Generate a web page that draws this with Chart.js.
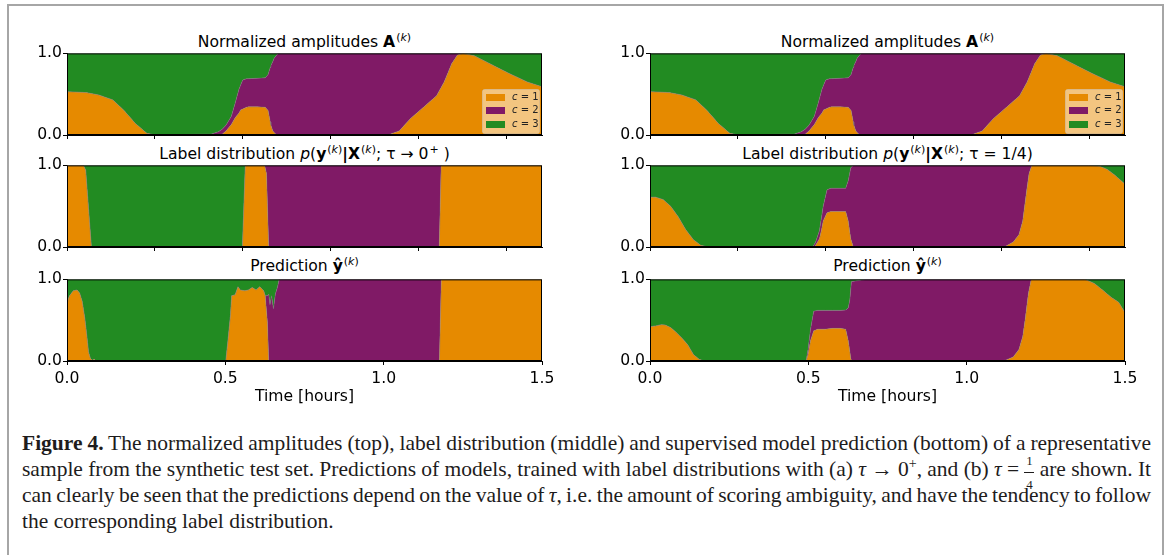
<!DOCTYPE html>
<html>
<head>
<meta charset="utf-8">
<script src="https://cdn.jsdelivr.net/npm/chart.js@4.4.1/dist/chart.umd.min.js"></script>
<style>
  html, body { margin: 0; padding: 0; background: #fff; }
  body { width: 1170px; height: 555px; position: relative; overflow: hidden; font-family: 'DejaVu Sans', sans-serif; }
  .page-frame { position: absolute; left: 7px; top: 4px; width: 1153px; height: 620px; border: 2px solid #a6a6a6; border-bottom: none; }
  canvas { position: absolute; }
  .ttl { position: absolute; width: 475px; text-align: center; font-size: 15.6px; line-height: 18px; color: #000; white-space: nowrap; }
  .ttl sup { font-size: 11px; line-height: 0; vertical-align: 6px; margin-left: 1px; }
  .ttl b { font-weight: bold; }
  #caption { position: absolute; left: 22px; top: 430px; width: 1129px; font-family: 'Liberation Serif', serif; font-size: 21.5px; line-height: 26px; color: #1e1c1c; }
  #caption .ln { white-space: nowrap; height: 26px; }
  #caption sup { font-size: 14px; line-height: 0; vertical-align: 8px; }
  .frac { display: inline-block; position: relative; width: 10px; height: 10px; vertical-align: baseline; }
  .frac .n, .frac .d { position: absolute; left: 0; right: 0; text-align: center; font-size: 13px; line-height: 14px; }
  .frac .n { top: -12px; }
  .frac .d { top: 12px; }
  .frac .bar { position: absolute; left: 0; right: 0; top: 6px; border-top: 1px solid #1e1c1c; }
</style>
</head>
<body>
<div class="page-frame"></div>

<div class="ttl" style="left:67px;top:33px">Normalized amplitudes <b>A</b><sup>(<i>k</i>)</sup></div>
<div class="ttl" style="left:650px;top:33px">Normalized amplitudes <b>A</b><sup>(<i>k</i>)</sup></div>
<div class="ttl" style="left:67px;top:145px">Label distribution <i>p</i>(<b>y</b><sup>(<i>k</i>)</sup><b>|X</b><sup>(<i>k</i>)</sup>; τ → 0<sup>+</sup> )</div>
<div class="ttl" style="left:650px;top:145px">Label distribution <i>p</i>(<b>y</b><sup>(<i>k</i>)</sup><b>|X</b><sup>(<i>k</i>)</sup>; τ = 1/4)</div>
<div class="ttl" style="left:67px;top:257px">Prediction <b>ŷ</b><sup>(<i>k</i>)</sup></div>
<div class="ttl" style="left:650px;top:257px">Prediction <b>ŷ</b><sup>(<i>k</i>)</sup></div>

<canvas id="ampA" width="577" height="104" style="left:10px;top:43px"></canvas>
<canvas id="ampB" width="577" height="104" style="left:593px;top:43px"></canvas>
<canvas id="lblA" width="577" height="104" style="left:10px;top:155px"></canvas>
<canvas id="lblB" width="577" height="104" style="left:593px;top:155px"></canvas>
<canvas id="predA" width="577" height="140" style="left:10px;top:269px"></canvas>
<canvas id="predB" width="577" height="140" style="left:593px;top:269px"></canvas>

<div id="caption">
  <div class="ln just"><span><b>Figure 4.</b> The normalized amplitudes (top), label distribution (middle) and supervised model prediction (bottom) of a representative</span></div>
  <div class="ln just"><span>sample from the synthetic test set. Predictions of models, trained with label distributions with (a) <i>τ</i> → 0<sup>+</sup>, and (b) <i>τ</i> = <span class="frac"><span class="n">1</span><span class="bar"></span><span class="d">4</span></span> are shown. It</span></div>
  <div class="ln just"><span>can clearly be seen that the predictions depend on the value of <i>τ</i>, i.e. the amount of scoring ambiguity, and have the tendency to follow</span></div>
  <div class="ln"><span>the corresponding label distribution.</span></div>
</div>

<script>
// ---- classes -------------------------------------------------------------
const classNames = ['c = 1', 'c = 2', 'c = 3'];
const classColors = ['#e68a00', '#801a66', '#228b22'];

// ---- axis ticks ----------------------------------------------------------
const hourTicks = [0, 0.5, 1.0, 1.5];                   // labelled time axis [hours]
const secondTicks = [0, 1000, 2000, 3000, 4000, 5000];  // unlabelled axes run in seconds
const valueTicks = [0, 1];

// ---- normalized amplitudes A(k) (same sample in both columns) -------------
// c = 3 always takes the remainder of each normalized column.
const ampTime = [0, 0.06, 0.1, 0.145, 0.18, 0.216, 0.252, 0.28, 0.35, 0.42, 0.454, 0.478, 0.49, 0.502, 0.513, 0.519, 0.531, 0.543, 0.549, 0.555, 0.567, 0.573, 0.6, 0.626, 0.635, 0.642, 0.644, 0.65, 0.654, 0.662, 0.668, 0.69, 0.8, 0.95, 1.013, 1.049, 1.084, 1.132, 1.167, 1.191, 1.215, 1.233, 1.25, 1.286, 1.334, 1.393, 1.453, 1.5];
const ampC1 = [0.53, 0.52, 0.49, 0.43, 0.30, 0.14, 0.02, 0, 0, 0, 0.005, 0.005, 0.01, 0.05, 0.1, 0.13, 0.21, 0.27, 0.31, 0.32, 0.34, 0.345, 0.345, 0.34, 0.30, 0.16, 0.12, 0.05, 0.03, 0, 0, 0, 0, 0, 0, 0.05, 0.2, 0.36, 0.48, 0.65, 0.875, 0.98, 1.0, 0.97, 0.875, 0.76, 0.65, 0.59];
const ampC2 = [0, 0, 0, 0, 0, 0, 0, 0, 0.005, 0.01, 0.005, 0.035, 0.06, 0.07, 0.09, 0.10, 0.18, 0.29, 0.31, 0.355, 0.35, 0.345, 0.35, 0.36, 0.44, 0.67, 0.73, 0.85, 0.91, 0.98, 1, 1, 1, 1, 1, 0.95, 0.8, 0.64, 0.52, 0.35, 0.125, 0.02, 0, 0, 0, 0, 0, 0];

// ---- label distribution, tau -> 0+ -----------------------------------------
const lblSharpTime = [0, 0.052, 0.059, 0.077, 0.554, 0.563, 0.624, 0.630, 0.637, 1.1755, 1.1815, 1.5];
const lblSharpC1 = [1, 1, 0.94, 0, 0, 1, 1, 0.9, 0, 0, 1, 1];
const lblSharpC2 = [0, 0, 0, 0, 0, 0, 0, 0.1, 1, 1, 0, 0];

// ---- label distribution, tau = 1/4 -----------------------------------------
const lblSoftTime = [0, 0.018, 0.042, 0.065, 0.089, 0.113, 0.137, 0.16, 0.184, 0.511, 0.517, 0.523, 0.535, 0.541, 0.547, 0.559, 0.571, 0.618, 0.626, 0.634, 0.642, 1.099, 1.123, 1.147, 1.165, 1.177, 1.189, 1.197, 1.206, 1.385, 1.42, 1.444, 1.468, 1.5];
const lblSoftC1 = [0.61, 0.61, 0.58, 0.50, 0.37, 0.21, 0.09, 0.02, 0, 0, 0, 0.02, 0.1, 0.2, 0.32, 0.42, 0.435, 0.435, 0.32, 0.1, 0, 0, 0.01, 0.06, 0.15, 0.32, 0.68, 0.9, 1.0, 1.0, 0.99, 0.95, 0.88, 0.77];
const lblSoftC2 = [0, 0, 0, 0, 0, 0, 0, 0, 0, 0, 0.02, 0.04, 0.1, 0.15, 0.18, 0.28, 0.285, 0.285, 0.49, 0.87, 1.0, 1, 0.99, 0.94, 0.85, 0.68, 0.32, 0.1, 0, 0, 0, 0, 0, 0];

// ---- model prediction, trained with tau -> 0+ --------------------------------
const predSharpTime = [0, 0.004, 0.008, 0.02, 0.032, 0.04, 0.048, 0.056, 0.062, 0.068, 0.074, 0.08, 0.086, 0.092, 0.499, 0.502, 0.508, 0.516, 0.52, 0.531, 0.54, 0.547, 0.561, 0.573, 0.585, 0.597, 0.609, 0.621, 0.626, 0.633, 0.637, 0.641, 0.646, 0.652, 0.658, 0.665, 0.67, 1.176, 1.182, 1.5];
const predSharpC1 = [0.69, 0.76, 0.8, 0.86, 0.87, 0.83, 0.73, 0.53, 0.33, 0.11, 0.03, 0.01, 0.02, 0, 0, 0.02, 0.24, 0.55, 0.8, 0.81, 0.91, 0.87, 0.86, 0.87, 0.9, 0.87, 0.91, 0.86, 0.8, 0.47, 0, 0, 0, 0, 0, 0, 0, 0, 1, 1];
const predSharpC2 = [0, 0, 0, 0, 0, 0, 0, 0, 0, 0, 0, 0, 0, 0, 0, 0, 0, 0, 0, 0, 0, 0, 0, 0, 0, 0, 0, 0, 0, 0.33, 0.82, 0.69, 0.8, 0.64, 0.82, 0.91, 1.0, 1, 0, 0];

// ---- model prediction, trained with tau = 1/4 --------------------------------
const predSoftTime = [0, 0.018, 0.036, 0.048, 0.065, 0.083, 0.101, 0.119, 0.137, 0.155, 0.172, 0.493, 0.499, 0.507, 0.517, 0.529, 0.553, 0.576, 0.6, 0.618, 0.626, 0.631, 0.634, 0.636, 0.638, 0.648, 0.683, 1.099, 1.123, 1.147, 1.165, 1.177, 1.185, 1.195, 1.204, 1.349, 1.373, 1.403, 1.432, 1.456, 1.48, 1.5];
const predSoftC1 = [0.42, 0.43, 0.445, 0.44, 0.41, 0.35, 0.28, 0.2, 0.08, 0.02, 0, 0, 0.08, 0.25, 0.37, 0.39, 0.39, 0.40, 0.40, 0.39, 0.25, 0.12, 0.03, 0.01, 0, 0, 0, 0, 0.01, 0.05, 0.14, 0.3, 0.52, 0.83, 1.0, 1.0, 1.0, 0.95, 0.86, 0.78, 0.72, 0.59];
const predSoftC2 = [0, 0, 0, 0, 0, 0, 0, 0, 0, 0, 0, 0, 0.06, 0.14, 0.24, 0.23, 0.23, 0.22, 0.22, 0.235, 0.40, 0.63, 0.85, 0.96, 0.975, 0.98, 1.0, 1, 0.99, 0.95, 0.86, 0.7, 0.48, 0.17, 0, 0, 0, 0, 0, 0, 0, 0];

// ---- drawing -------------------------------------------------------------
const FONT = "'DejaVu Sans', sans-serif";
const FONT_SIZE = 15.6;
const seam = 'rgba(125,125,125,0.45)';

// Black box around the plotting area, drawn over the filled areas.
const axesFrame = {
  id: 'axesFrame',
  afterDatasetsDraw(chart) {
    const { ctx, chartArea: a } = chart;
    ctx.save();
    ctx.strokeStyle = '#000';
    ctx.lineWidth = 1;
    ctx.strokeRect(a.left + 0.5, a.top + 0.5, a.width - 1, a.height - 1);
    ctx.restore();
  }
};

// Semi-transparent legend box in the lower-right corner of the plotting area.
const cornerLegend = {
  id: 'cornerLegend',
  afterDraw(chart, args, opts) {
    if (!opts.show) return;
    const { ctx, chartArea: a } = chart;
    const w = 57, h = 44;
    const x = a.right - 3 - w, y = a.bottom - 2 - h;
    ctx.save();
    ctx.beginPath();
    ctx.roundRect(x + 0.5, y + 0.5, w, h, 2);
    ctx.fillStyle = 'rgba(255,255,255,0.5)';
    ctx.fill();
    ctx.strokeStyle = 'rgba(204,204,204,0.5)';
    ctx.lineWidth = 1;
    ctx.stroke();
    ctx.textBaseline = 'middle';
    chart.data.datasets.forEach((ds, i) => {
      const cy = y + 8.5 + i * 13.4;
      ctx.fillStyle = ds.backgroundColor;
      ctx.fillRect(x + 4, Math.round(cy - 3.5), 19, 7);
      const parts = ds.label.split(' ');
      ctx.fillStyle = '#222';
      ctx.font = `italic 10px ${FONT}`;
      ctx.fillText(parts[0], x + 30, cy);
      const sw = ctx.measureText(parts[0]).width;
      ctx.font = `10px ${FONT}`;
      ctx.fillText(' ' + parts.slice(1).join(' '), x + 30 + sw, cy);
    });
    ctx.restore();
  }
};

function classDatasets(time, c1, c2) {
  const lower = time.map((t, i) => ({ x: t, y: c1[i] }));
  const upper = time.map((t, i) => ({ x: t, y: c1[i] + c2[i] }));
  return [
    { label: classNames[0], data: lower, fill: 'start', backgroundColor: classColors[0], borderColor: seam, borderWidth: 1 },
    { label: classNames[1], data: upper, fill: '-1', backgroundColor: classColors[1], borderColor: seam, borderWidth: 1 },
    { label: classNames[2], data: upper, fill: 'end', backgroundColor: classColors[2], borderColor: 'rgba(0,0,0,0)', borderWidth: 1 }
  ];
}

function drawPanel(id, time, c1, c2, opts) {
  const labelled = !!opts.timeAxis;
  const xTickValues = labelled ? hourTicks : secondTicks.map(s => s / 3600);
  new Chart(document.getElementById(id), {
    type: 'line',
    data: { datasets: classDatasets(time, c1, c2) },
    options: {
      responsive: false,
      animation: false,
      devicePixelRatio: 1,
      events: [],
      layout: { padding: { top: 10, right: 45, bottom: 0, left: 0 } },
      elements: { point: { radius: 0 }, line: { tension: 0 } },
      plugins: {
        legend: { display: false },
        tooltip: { enabled: false },
        cornerLegend: { show: !!opts.legend }
      },
      scales: {
        x: {
          type: 'linear', min: 0, max: 1.5,
          afterBuildTicks: s => { s.ticks = xTickValues.map(v => ({ value: v })); },
          afterFit: s => { s.height = labelled ? 48 : 12; },
          grid: { display: true, drawOnChartArea: false, drawTicks: true, tickLength: 4, color: '#000', lineWidth: 1 },
          border: { display: true, color: '#000', width: 1 },
          ticks: {
            display: labelled, autoSkip: false, maxRotation: 0, padding: 5,
            color: '#000', font: { family: FONT, size: FONT_SIZE },
            callback: v => Number(v).toFixed(1)
          },
          title: {
            display: labelled, text: 'Time [hours]', color: '#000',
            font: { family: FONT, size: FONT_SIZE }, padding: { top: 0, bottom: 3 }
          }
        },
        y: {
          type: 'linear', min: 0, max: 1,
          afterBuildTicks: s => { s.ticks = valueTicks.map(v => ({ value: v })); },
          afterFit: s => { s.width = 57; },
          grid: { display: true, drawOnChartArea: false, drawTicks: true, tickLength: 4, color: '#000', lineWidth: 1 },
          border: { display: true, color: '#000', width: 1 },
          ticks: {
            padding: 1, color: '#000', font: { family: FONT, size: FONT_SIZE },
            callback: v => Number(v).toFixed(1)
          }
        }
      }
    },
    plugins: [axesFrame, cornerLegend]
  });
}

drawPanel('ampA', ampTime, ampC1, ampC2, { legend: true });
drawPanel('ampB', ampTime, ampC1, ampC2, { legend: true });
drawPanel('lblA', lblSharpTime, lblSharpC1, lblSharpC2, {});
drawPanel('lblB', lblSoftTime, lblSoftC1, lblSoftC2, {});
drawPanel('predA', predSharpTime, predSharpC1, predSharpC2, { timeAxis: true });
drawPanel('predB', predSoftTime, predSoftC1, predSoftC2, { timeAxis: true });

// Justify the full caption lines across the text block.
const captionWidth = 1129;
document.querySelectorAll('#caption .ln.just > span').forEach(sp => {
  const w = sp.getBoundingClientRect().width;
  const spaces = (sp.textContent.match(/ /g) || []).length;
  if (spaces) sp.style.wordSpacing = ((captionWidth - w) / spaces).toFixed(2) + 'px';
});
</script>
</body>
</html>
